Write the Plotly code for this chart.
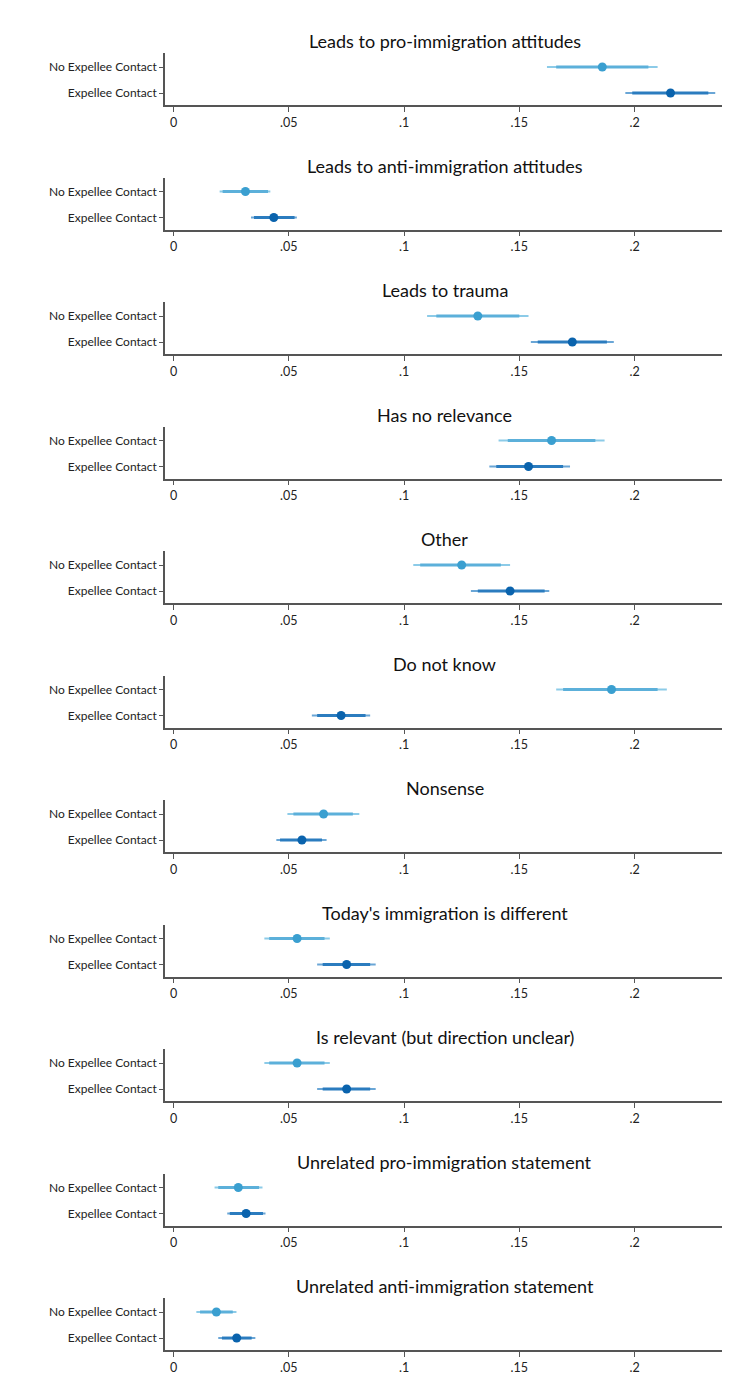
import plotly.graph_objects as go

titles = [
    "Leads to pro-immigration attitudes",
    "Leads to anti-immigration attitudes",
    "Leads to trauma",
    "Has no relevance",
    "Other",
    "Do not know",
    "Nonsense",
    "Today's immigration is different",
    "Is relevant (but direction unclear)",
    "Unrelated pro-immigration statement",
    "Unrelated anti-immigration statement",
]
groups = ["Expellee Contact", "No Expellee Contact"]

no_est = [0.186, 0.0312, 0.132, 0.164, 0.125, 0.190, 0.0651, 0.0536, 0.0536, 0.0281, 0.0186]
no_lo95 = [0.162, 0.020, 0.110, 0.141, 0.104, 0.166, 0.0494, 0.0394, 0.0394, 0.0178, 0.0099]
no_hi95 = [0.210, 0.042, 0.154, 0.187, 0.146, 0.214, 0.0806, 0.0678, 0.0678, 0.0386, 0.0273]
no_lo90 = [0.166, 0.0213, 0.114, 0.145, 0.107, 0.169, 0.052, 0.0415, 0.0415, 0.0194, 0.0115]
no_hi90 = [0.206, 0.041, 0.150, 0.183, 0.142, 0.210, 0.0778, 0.0655, 0.0655, 0.0371, 0.0257]

ex_est = [0.2156, 0.0435, 0.173, 0.154, 0.146, 0.0727, 0.0557, 0.0751, 0.0751, 0.0315, 0.0274]
ex_lo95 = [0.196, 0.0336, 0.155, 0.137, 0.129, 0.060, 0.0446, 0.0623, 0.0623, 0.0233, 0.0194]
ex_hi95 = [0.235, 0.0535, 0.191, 0.172, 0.163, 0.0853, 0.0664, 0.0877, 0.0877, 0.0399, 0.0355]
ex_lo90 = [0.199, 0.0349, 0.158, 0.140, 0.132, 0.0623, 0.0462, 0.0647, 0.0647, 0.0244, 0.021]
ex_hi90 = [0.232, 0.0525, 0.188, 0.169, 0.161, 0.0833, 0.0644, 0.0853, 0.0853, 0.0388, 0.0339]

x_ticks = [0, 0.05, 0.1, 0.15, 0.2]
x_ticklabels = ["0", ".05", ".1", ".15", ".2"]

W, H = 730, 1373
pitch = 124.5
off = 8  # page body margin
font = "Lato"

light_pt, light_in, light_out = "#3a9fd0", "#5cb0da", "#8ccbe8"
dark_pt, dark_in, dark_out = "#0a63ad", "#2b7cbf", "#6aa6d6"

fig = go.Figure()
layout = dict(
    width=W, height=H, margin=dict(l=0, r=0, t=0, b=0),
    paper_bgcolor="white", plot_bgcolor="white", showlegend=False,
    font=dict(family=font, color="#222"),
    annotations=[],
)

x0p, x1p = 165 - off, 724 - off
for k, t in enumerate(titles):
    sfx = "" if k == 0 else str(k + 1)
    top = 53 - off + pitch * k
    bot = 105 - off + pitch * k
    dom = [1 - bot / H, 1 - top / H]
    xa = "x" + sfx
    ya = "y" + sfx
    rows = [
        (0, ex_est[k], ex_lo95[k], ex_hi95[k], ex_lo90[k], ex_hi90[k], dark_pt, dark_in, dark_out),
        (1, no_est[k], no_lo95[k], no_hi95[k], no_lo90[k], no_hi90[k], light_pt, light_in, light_out),
    ]
    for (r, est, lo95, hi95, lo90, hi90, cp, ci, co) in rows:
        fig.add_trace(go.Scatter(x=[lo95, hi95], y=[r, r], mode="lines",
                                 line=dict(color=co, width=2), xaxis=xa, yaxis=ya, hoverinfo="skip"))
        fig.add_trace(go.Scatter(x=[lo90, hi90], y=[r, r], mode="lines",
                                 line=dict(color=ci, width=3), xaxis=xa, yaxis=ya, hoverinfo="skip"))
        fig.add_trace(go.Scatter(x=[est], y=[r], mode="markers",
                                 marker=dict(color=cp, size=9), xaxis=xa, yaxis=ya))
    layout["xaxis" + sfx] = dict(
        domain=[x0p / W, x1p / W], anchor=ya, range=[-0.0037, 0.2388],
        tickvals=x_ticks, ticktext=x_ticklabels, ticks="outside", ticklen=5,
        tickcolor="#555", showline=True, linecolor="#555", linewidth=1.5,
        showgrid=False, zeroline=False, tickfont=dict(size=12.5, color="#222", family=font),
        fixedrange=True,
    )
    layout["yaxis" + sfx] = dict(
        domain=dom, anchor=xa, range=[-0.46, 1.54],
        tickvals=[0, 1], ticktext=groups, ticks="outside", ticklen=4,
        tickcolor="#555", showline=True, linecolor="#555", linewidth=1.5,
        showgrid=False, zeroline=False, tickfont=dict(size=12, color="#222", family=font),
        fixedrange=True,
    )
    layout["annotations"].append(dict(
        text=t, xref="paper", yref="paper", x=(x0p + x1p) / 2 / W,
        y=1 - (41 - off + pitch * k) / H, xanchor="center", yanchor="middle",
        showarrow=False, font=dict(size=18, color="#111", family=font),
    ))

fig.update_layout(**layout)
fig.write_html("out.html")
